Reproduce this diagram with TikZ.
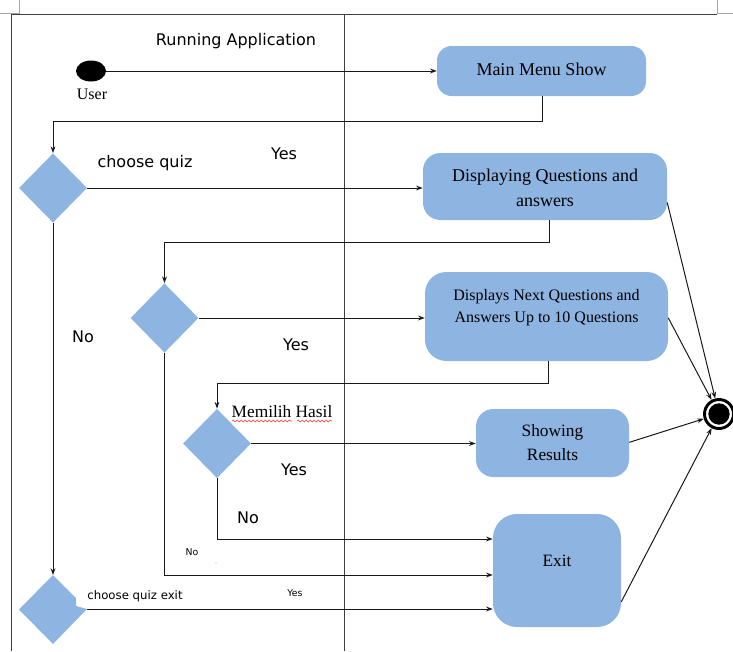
\documentclass[tikz,border=0pt]{standalone}
\usepackage{fontspec}
\setmainfont{Liberation Serif}
\newfontfamily\dv{DejaVu Sans}
\usetikzlibrary{arrows.meta,shapes.geometric,decorations.pathmorphing}
\definecolor{boxblue}{RGB}{142,180,226}
\begin{document}
\begin{tikzpicture}[x=0.75pt,y=-0.75pt,
  box/.style={fill=boxblue, draw=none, align=center, inner sep=0pt},
  dia/.style={diamond, fill=boxblue, draw=none, inner sep=0pt, minimum width=51pt, minimum height=52pt},
  conn/.style={draw=black!90, line width=0.75pt, -{Stealth[length=5pt,width=3.6pt]}},
  frameline/.style={draw=black!75, line width=0.65pt},
  cornermark/.style={draw=black!35, line width=0.6pt},
  sans/.style={font=\dv\fontsize{12}{14}\selectfont, inner sep=0pt},
  smallsans/.style={font=\dv\fontsize{7}{8}\selectfont, inner sep=0pt},
  serif/.style={font=\fontsize{12}{14}\selectfont, inner sep=0pt},
  spell/.style={draw=red!80, line width=0.45pt, decorate, decoration={snake, amplitude=0.7pt, segment length=3pt}}
]
\useasboundingbox (0,0) rectangle (733,651);

% frame and lanes
\draw[cornermark] (0,13) -- (19,13) -- (19,0);
\draw[cornermark] (717,0) -- (717,13) -- (733,13);
\draw[frameline] (11,651) -- (11,14) -- (717,14);
\draw[frameline] (344,14) -- (344,651);

% row coordinates
\coordinate (r1) at (0,539);
\coordinate (r2) at (0,575);

% start
\node[ellipse, fill=black, inner sep=0pt, minimum width=22.5pt, minimum height=15.75pt] (start) at (91,71) {};
\node[serif] (user) at (92,94.5) {User};
\node[sans] (title) at (236,41.5) {Running Application};

% boxes
\node[box, rounded corners=11pt, minimum width=156.75pt, minimum height=37.5pt,
      font=\fontsize{13.5}{16}\selectfont] (menu) at (541.5,71) {\raisebox{3pt}{Main Menu Show}};
\node[box, rounded corners=13pt, minimum width=183pt, minimum height=50.25pt] (disp) at (545,186.5) {};
\node[serif, align=center, font=\fontsize{13.5}{18.75}\selectfont] (disptext) at (545,188) {Displaying Questions and\\answers};
\node[box, rounded corners=16pt, minimum width=182.25pt, minimum height=66.75pt] (next) at (546.5,316.5) {};
\node[serif, align=center, font=\fontsize{12}{16.5}\selectfont] (nexttext) at (546.5,308) {Displays Next Questions and\\Answers Up to 10 Questions};
\node[box, rounded corners=13pt, minimum width=114.75pt, minimum height=51pt,
      font=\fontsize{13}{18}\selectfont] (show) at (552.5,443) {Showing\\Results};
\node[box, rounded corners=18pt, minimum width=96pt, minimum height=84.75pt] (exit) at (557,570.5) {};
\node[serif, font=\fontsize{13}{15}\selectfont] (exittext) at (557,560.5) {Exit};

% end node
\node[circle, draw=black, line width=2.2pt, fill=white, inner sep=0pt, minimum size=21.75pt] (endn) at (719,414) {};
\node[circle, fill=black, inner sep=0pt, minimum size=16pt] (endc) at (endn.center) {};

% decisions
\node[dia] (d1) at (53,188) {};
\node[dia] (d2) at (164.5,318) {};
\node[dia] (d3) at (217,443.5) {};
\fill[boxblue] (53,575) -- (76,598) -- (76,606) -- (87,609) -- (53,644) -- (19,609.5) -- cycle;
\coordinate (d4top) at (53,575);
\coordinate (d4right) at (87,609);

% connectors
\draw[conn] (start.east) -- (menu.west);
\draw[conn] ([xshift=0.4pt]menu.south) -- ++(0,25) -| (d1.north);
\draw[conn] (d1.east) -- (d1.east -| disp.west);
\draw[conn] ([xshift=3pt]disp.south) -- ++(0,22.5) -| (d2.north);
\draw[conn] (d2.east) -- (d2.east -| next.west);
\draw[conn] ([xshift=1.5pt]next.south) -- ++(0,22.5) -| (d3.north);
\draw[conn] (d3.east) -- (d3.east -| show.west);
\draw[conn] (d3.south) |- (exit.west |- r1);
\draw[conn] (d2.south) |- (exit.west |- r2);
\draw[conn] (d1.south) -- (d4top);
\draw[conn] (d4right) -- (exit.west |- d4right);
\draw[conn] ([yshift=-12pt]disp.east) -- (endn);
\draw[conn] ([yshift=-1pt]next.east) -- (endn);
\draw[conn] ([yshift=0.5pt]show.east) -- (endn);
\draw[conn] ([yshift=-23.5pt]exit.east) -- (endn);

% labels
\node[sans] (lchoose) at (145,163.5) {choose quiz};
\node[sans] (lyes1) at (284,153.5) {Yes};
\node[sans] (lno1) at (83,336.5) {No};
\node[sans] (lyes2) at (296,344.5) {Yes};
\node[serif, font=\fontsize{13}{15}\selectfont] (lmemilih) at (282,412) {Memilih Hasil};
\draw[spell] (232,421) -- (292,421);
\draw[spell] (297,421) -- (332,421);
\node[sans] (lyes3) at (294,469.5) {Yes};
\node[sans] (lno2) at (248,517.5) {No};
\node[smallsans] (lno3) at (192,552.5) {No};
\node[sans, font=\dv\fontsize{8.8}{10}\selectfont] (lexit) at (135,596) {choose quiz exit};
\node[smallsans] (lyes4) at (295,593.5) {Yes};
\fill[red!45] (216,563) circle (0.6);
\end{tikzpicture}
\end{document}
